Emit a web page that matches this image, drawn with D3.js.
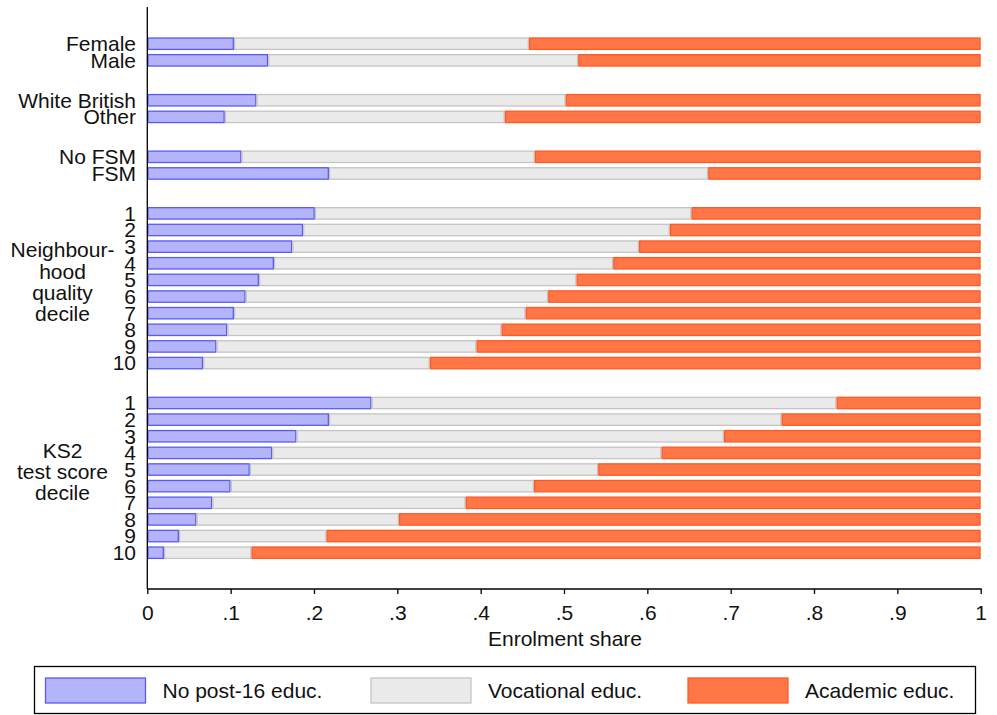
<!DOCTYPE html>
<html>
<head>
<meta charset="utf-8">
<script src="https://cdn.jsdelivr.net/npm/d3@7"></script>
<style>
  html, body { margin: 0; padding: 0; background: #fff; }
  svg text { font-family: "Liberation Sans", Arial, sans-serif; fill: #111; }
</style>
</head>
<body>
<svg id="chart" width="997" height="715"></svg>
<script>
// ---------------- data ----------------
const rowLabels = ["Female","Male","White British","Other","No FSM","FSM",
  "1","2","3","4","5","6","7","8","9","10",
  "1","2","3","4","5","6","7","8","9","10"];
const rowGroup = [0,0,1,1,2,2, 3,3,3,3,3,3,3,3,3,3, 4,4,4,4,4,4,4,4,4,4];
const groupTitles = [[], [], [], ["Neighbour-","hood","quality","decile"], ["KS2","test score","decile"]];
const seriesNames = ["No post-16 educ.", "Vocational educ.", "Academic educ."];
const noPost16   = [0.104,0.145,0.131,0.093,0.113,0.218,
  0.201,0.187,0.174,0.152,0.134,0.118,0.104,0.096,0.083,0.067,
  0.269,0.218,0.179,0.150,0.123,0.100,0.078,0.059,0.038,0.020];
const vocational = [0.354,0.372,0.371,0.336,0.352,0.455,
  0.452,0.440,0.416,0.407,0.381,0.363,0.350,0.329,0.312,0.272,
  0.558,0.543,0.513,0.467,0.418,0.364,0.304,0.243,0.177,0.105];
const academic   = [0.542,0.483,0.498,0.571,0.535,0.327,
  0.347,0.373,0.410,0.441,0.485,0.519,0.546,0.575,0.605,0.661,
  0.173,0.239,0.308,0.383,0.459,0.536,0.618,0.698,0.785,0.875];
const xTicks = [0,0.1,0.2,0.3,0.4,0.5,0.6,0.7,0.8,0.9,1];
const xTitle = "Enrolment share";

// ---------------- styles ----------------
const fills   = ["#b4b4fa", "#eaeaea", "#ff7647"];
const strokes = ["#5a5af2", "#c4c4c4", "#ff5a24"];
const FONT = 21;

const svg = d3.select("#chart");

// slot positions (row index plus extra gap per group)
const GAP = 1.4;
const slots = rowGroup.map((g, i) => i + g * GAP);
const y = d3.scaleLinear().domain([0, d3.max(slots)]).range([43.7, 552.7]);
const x = d3.scaleLinear().domain([0, 1]).range([147.3, 980.7]);
const barH = 11.4, sw = 1.3;

// stacked data
const rows = rowLabels.map((lab, i) => ({label: lab, vals: [noPost16[i], vocational[i], academic[i]], slot: slots[i]}));
const stack = d3.stack().keys([0,1,2]).value((d, k) => d.vals[k]);
const layers = stack(rows);

const gBars = svg.append("g");
layers.forEach((layer, k) => {
  gBars.selectAll(null).data(layer).enter().append("rect")
    .attr("x", d => x(d[0]) + sw/2)
    .attr("width", d => Math.max(0, x(d[1]) - x(d[0]) - sw))
    .attr("y", d => y(d.data.slot) - barH/2)
    .attr("height", barH)
    .attr("fill", fills[k])
    .attr("stroke", strokes[k])
    .attr("stroke-width", sw);
});

// row labels
svg.append("g").selectAll("text").data(rows).enter().append("text")
  .attr("x", 136)
  .attr("y", d => y(d.slot) + 7.4)
  .attr("text-anchor", "end")
  .attr("font-size", FONT)
  .text(d => d.label);

// group titles
groupTitles.forEach((lines, g) => {
  if (!lines.length) return;
  const idx = rowGroup.map((v, i) => v === g ? i : -1).filter(i => i >= 0);
  const c = (y(slots[idx[0]]) + y(slots[idx[idx.length - 1]])) / 2;
  const lh = 21.3;
  lines.forEach((t, j) => {
    svg.append("text")
      .attr("x", 62.5)
      .attr("y", c + 1 + (j - (lines.length - 1) / 2) * lh)
      .attr("text-anchor", "middle")
      .attr("font-size", FONT)
      .text(t);
  });
});

// axes
const axisY = 589;
svg.append("line").attr("x1", x(0)).attr("x2", x(0)).attr("y1", 7).attr("y2", axisY)
  .attr("stroke", "#000").attr("stroke-width", 1.3);

const xAxis = d3.axisBottom(x).tickValues(xTicks).tickSize(5).tickSizeOuter(0)
  .tickFormat(d => d === 0 ? "0" : d === 1 ? "1" : d3.format(".1f")(d).replace(/^0/, ""));
const gx = svg.append("g").attr("transform", `translate(0,${axisY})`).call(xAxis);
gx.select(".domain").attr("stroke", "#000").attr("stroke-width", 1.3).attr("d", `M${x(0)},0H${x(1) + 1}`);
gx.selectAll(".tick line").attr("stroke", "#000").attr("stroke-width", 1.3);
gx.selectAll(".tick text").attr("y", 31).attr("dy", null)
  .attr("font-size", FONT).attr("font-family", "Liberation Sans, Arial, sans-serif").attr("fill", "#111");

svg.append("text").attr("x", (x(0) + x(1)) / 2 + 1).attr("y", 645.5)
  .attr("text-anchor", "middle").attr("font-size", FONT).text(xTitle);

// legend
const lg = svg.append("g");
lg.append("rect").attr("x", 34.5).attr("y", 666.5).attr("width", 941).attr("height", 47)
  .attr("fill", "#fff").attr("stroke", "#000").attr("stroke-width", 1.3);
const legX = [45.5, 371, 688];
seriesNames.forEach((name, k) => {
  lg.append("rect").attr("x", legX[k]).attr("y", 678).attr("width", 100).attr("height", 25)
    .attr("fill", fills[k]).attr("stroke", strokes[k]).attr("stroke-width", sw);
  lg.append("text").attr("x", legX[k] + 117).attr("y", 698).attr("font-size", FONT).text(name);
});
</script>
</body>
</html>
